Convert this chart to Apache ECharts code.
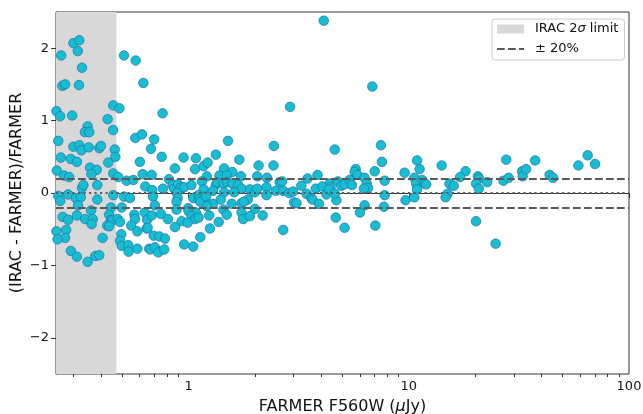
<!DOCTYPE html>
<html><head><meta charset="utf-8">
<script src="https://cdn.jsdelivr.net/npm/echarts@6/dist/echarts.min.js"></script>
<style>html,body{margin:0;padding:0;background:#fff}#c{width:643px;height:414px}</style>
</head><body><div id="c"></div>
<script>
// FARMER F560W flux (µJy)
const farmerFlux = [
0.264,0.300,0.319,0.314,0.328,0.267,0.275,0.318,0.509,0.575,0.623,0.455,0.485,0.251,0.261,0.296,0.429,0.348,0.338,0.354,
0.454,0.573,0.614,0.256,0.300,0.319,0.326,0.352,0.393,0.400,0.462,0.465,0.263,0.292,0.311,0.432,0.601,0.357,0.383,0.362,
0.252,0.272,0.287,0.455,0.479,0.523,0.561,0.619,0.385,0.328,0.333,0.636,0.256,0.261,0.284,0.308,0.324,0.315,0.385,0.455,
0.509,0.542,0.444,0.497,0.361,0.268,0.284,0.311,0.339,0.367,0.363,0.436,0.444,0.450,0.477,0.427,0.436,0.488,0.567,0.571,
0.549,0.585,0.632,0.649,0.645,0.251,0.278,0.275,0.254,0.407,0.495,0.488,0.497,0.532,0.534,0.585,0.663,0.292,0.311,0.377,
0.393,0.348,
0.762,0.698,0.675,1.51,0.755,0.949,1.08,1.33,1.70,0.867,1.07,1.17,1.22,1.45,1.58,0.680,0.814,1.21,1.38,1.49,
1.73,0.684,0.765,0.846,0.860,0.897,0.920,0.955,1.03,1.15,1.17,1.33,1.35,1.44,1.50,1.58,1.68,1.74,1.29,1.45,
1.61,0.689,0.885,0.892,0.882,1.05,1.11,1.12,1.13,1.20,1.23,1.29,1.40,1.57,1.74,0.703,0.882,0.996,1.00,1.08,
1.21,1.44,1.49,0.680,0.749,0.806,1.03,1.07,1.11,0.930,0.990,1.24,1.37,1.74,1.77,0.652,0.867,1.25,0.694,0.736,
0.781,1.13,0.670,0.703,0.728,0.775,0.955,1.05,
2.89,2.44,4.61,2.08,2.43,2.05,2.27,2.59,2.66,3.25,3.47,3.85,4.37,4.41,4.77,1.90,2.00,2.05,2.26,2.26,
2.49,2.69,2.86,2.98,3.01,3.09,3.43,3.61,3.65,3.78,4.05,4.23,4.34,3.91,4.69,1.86,1.78,2.00,1.90,2.17,
4.66,2.69,4.11,
6.83,7.47,10.9,7.55,11.2,5.74,5.68,5.84,7.00,9.57,6.30,7.77,4.94,5.11,5.39,5.52,6.44,6.53,6.26,10.6,
10.8,11.5,11.8,12.0,10.9,4.61,7.77,9.67,10.6,6.30,6.00,7.71,5.11,7.05,
14.1,18.1,17.1,15.3,16.0,20.6,20.8,20.2,20.8,22.7,27.7,26.9,28.4,32.7,32.9,34.1,15.0,14.7,20.2,24.8,
37.5,43.6,45.2,58.9,64.9,70.1
];
// (IRAC - FARMER)/FARMER
const fluxRatio = [
1.90,2.07,2.11,1.96,1.73,1.48,1.50,1.49,1.90,1.83,1.52,1.21,1.17,1.13,1.06,1.07,1.02,0.92,0.84,0.84,
0.87,0.76,0.81,0.72,0.64,0.66,0.59,0.63,0.62,0.65,0.60,0.50,0.49,0.47,0.43,0.42,0.43,0.35,0.32,0.26,
0.31,0.24,0.22,0.27,0.22,0.17,0.18,0.26,0.11,0.07,0.11,0.09,-0.04,-0.11,-0.02,-0.07,-0.06,-0.17,-0.09,-0.03,
-0.05,-0.07,-0.20,-0.20,-0.24,-0.33,-0.37,-0.31,-0.36,-0.36,-0.43,-0.30,-0.37,-0.38,-0.36,-0.45,-0.46,-0.40,-0.30,-0.36,
-0.45,-0.53,-0.27,-0.37,-0.49,-0.53,-0.51,-0.62,-0.64,-0.62,-0.57,-0.66,-0.73,-0.72,-0.81,-0.77,-0.77,-0.80,-0.88,-0.87,
-0.86,-0.95,
1.10,0.74,0.61,0.72,0.50,0.49,0.48,0.53,0.46,0.34,0.33,0.37,0.42,0.34,0.29,0.25,0.19,0.23,0.24,0.24,
0.23,0.04,0.06,0.11,0.06,0.12,0.07,0.08,0.11,0.16,0.05,0.11,0.15,0.13,0.15,0.13,0.11,0.06,0.03,0.01,
0.01,-0.05,0.00,-0.07,-0.12,-0.07,-0.03,-0.09,-0.12,-0.05,-0.16,-0.15,-0.09,-0.15,-0.14,-0.17,-0.23,-0.21,-0.25,-0.27,
-0.18,-0.23,-0.30,-0.31,-0.29,-0.36,-0.31,-0.36,-0.34,-0.39,-0.41,-0.31,-0.40,-0.27,-0.36,-0.48,-0.47,-0.49,-0.59,-0.60,
-0.63,-0.61,-0.78,-0.75,-0.82,-0.78,-0.71,-0.74,
1.19,0.65,0.60,0.38,0.38,0.23,0.21,0.15,0.16,0.10,0.20,0.25,0.13,0.08,0.16,0.05,0.01,0.06,0.08,-0.03,
0.03,0.03,0.00,0.02,-0.13,-0.14,-0.01,-0.07,-0.09,0.06,0.09,-0.02,0.05,-0.15,-0.10,-0.09,-0.12,-0.22,-0.32,-0.31,
-0.34,-0.51,2.38,
1.47,0.66,0.45,0.43,0.33,0.33,0.29,0.25,0.30,0.28,0.21,0.17,0.10,0.12,0.18,0.11,0.13,0.07,0.06,0.21,
0.13,0.18,0.13,0.12,0.05,-0.01,-0.03,-0.10,-0.06,-0.17,-0.27,-0.19,-0.48,-0.45,
0.38,0.30,0.22,0.13,0.10,0.23,0.20,0.13,0.06,0.15,0.46,0.17,0.21,0.30,0.23,0.33,-0.01,-0.06,-0.39,-0.70,
0.45,0.25,0.21,0.38,0.52,0.40
];
const xRange = [0.25, 100];
const yRange = [-2.5, 2.5];
const xMajorTicks = [1, 10, 100];
const xMinorTicks = [0.3,0.4,0.5,0.6,0.7,0.8,0.9,2,3,4,5,6,7,8,9,20,30,40,50,60,70,80,90];
const yTicks = [-2, -1, 0, 1, 2];
const iracLimit = [0.25, 0.47];
const pctLimits = [0.2, -0.2];
const zeroLine = 0;

const FONT = 'DejaVu Sans';
const points = farmerFlux.map((x, i) => [x, fluxRatio[i]]);
const lineColor = '#595959';

const chart = echarts.init(document.getElementById('c'), null, {renderer: 'canvas'});
chart.setOption({
  animation: false,
  backgroundColor: '#fff',
  grid: {left: 56, right: 14, top: 12, bottom: 40, containLabel: false, outerBoundsMode: 'none',
    show: true, borderColor: '#333', borderWidth: 1, backgroundColor: 'transparent'},
  legend: {
    orient: 'vertical', left: 492, top: 19,
    padding: [3, 6, 4, 4], itemGap: 6, itemWidth: 27, itemHeight: 9,
    backgroundColor: 'rgba(255,255,255,0.85)', borderColor: '#cccccc', borderWidth: 1, borderRadius: 3,
    textStyle: {fontFamily: FONT, fontSize: 13, color: '#111', lineHeight: 14, padding: [0, 0, 0, 6],
      rich: {n: {fontFamily: FONT, fontSize: 13, color: '#111'}, i: {fontFamily: FONT, fontSize: 13, fontStyle: 'italic', color: '#111'}}},
    formatter: function (name) {
      if (name.indexOf('σ') >= 0) return '{n|IRAC 2}{i|σ}{n| limit}';
      return '{n|' + name + '}';
    },
    data: [
      {name: 'IRAC 2σ limit', icon: 'rect', itemStyle: {color: '#d8d8d8', borderWidth: 0}},
      {name: '± 20%', itemStyle: {opacity: 0}}
    ]
  },
  xAxis: [{
    type: 'log', logBase: 10, min: xRange[0], max: xRange[1],
    name: 'FARMER F560W ({i|μ}Jy)', nameLocation: 'middle', nameGap: 25, nameMoveOverlap: false,
    nameTextStyle: {fontFamily: FONT, fontSize: 16, color: '#111',
      rich: {i: {fontFamily: FONT, fontSize: 16, fontStyle: 'italic', color: '#111'}}},
    axisLine: {show: true, lineStyle: {color: '#333', width: 1}},
    axisTick: {show: true, length: 5, lineStyle: {color: '#333', width: 1}, customValues: xMajorTicks},
    axisLabel: {show: true, margin: 6, fontFamily: FONT, fontSize: 13, color: '#111', customValues: xMajorTicks,
      formatter: v => String(Math.round(v))},
    splitLine: {show: false}, minorTick: {show: false}
  }, {
    type: 'log', logBase: 10, min: xRange[0], max: xRange[1], position: 'bottom',
    axisLine: {show: false},
    axisTick: {show: true, length: 3, lineStyle: {color: '#333', width: 1}, customValues: xMinorTicks},
    axisLabel: {show: false}, splitLine: {show: false}
  }],
  yAxis: {
    type: 'value', min: yRange[0], max: yRange[1],
    name: '(IRAC - FARMER)/FARMER', nameLocation: 'middle', nameGap: 31, nameRotate: 90, nameMoveOverlap: false,
    nameTextStyle: {fontFamily: FONT, fontSize: 16, color: '#111'},
    axisLine: {show: true, lineStyle: {color: '#333', width: 1}},
    axisTick: {show: true, length: 5, lineStyle: {color: '#333', width: 1}, customValues: yTicks},
    axisLabel: {show: true, margin: 7, fontFamily: FONT, fontSize: 13, color: '#111', customValues: yTicks,
      formatter: v => String(Math.round(v)).replace('-', '\u2212')},
    splitLine: {show: false}
  },
  series: [
    {
      name: 'IRAC 2σ limit', type: 'line', data: [], z: 1, symbol: 'none',
      itemStyle: {color: '#d8d8d8'}, lineStyle: {color: '#d8d8d8'},
      markArea: {silent: true, itemStyle: {color: '#d8d8d8'},
        data: [[{xAxis: iracLimit[0]}, {xAxis: iracLimit[1]}]]}
    },
    {
      name: 'data', type: 'scatter', z: 3, data: points, symbolSize: 9.5,
      itemStyle: {color: '#17becf', borderColor: '#1f77b4', borderWidth: 0.8, opacity: 1}
    },
    {
      name: '± 20%', type: 'line', data: [], z: 5, symbol: 'none',
      itemStyle: {color: lineColor},
      lineStyle: {color: lineColor, width: 2, type: [7.7, 3.3]},
      markLine: {silent: true, symbol: ['none', 'none'], label: {show: false},
        lineStyle: {color: lineColor, width: 2, type: [7.7, 3.3]},
        data: [
          {yAxis: pctLimits[0]},
          {yAxis: pctLimits[1]},
          {yAxis: zeroLine, lineStyle: {color: lineColor, width: 2, type: [2.1, 3.4]}}
        ]}
    }
  ]
});
</script>
</body></html>
